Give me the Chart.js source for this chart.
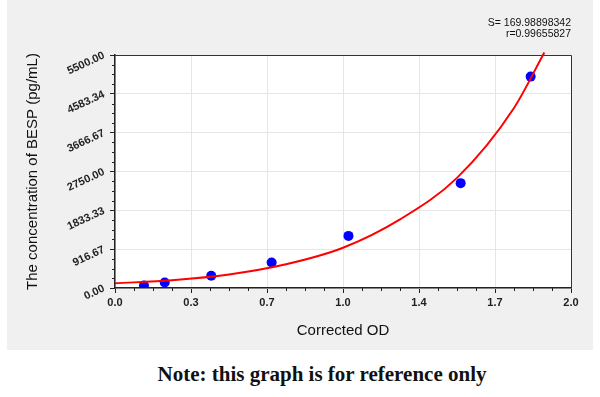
<!DOCTYPE html>
<html>
<head>
<meta charset="utf-8">
<script src="https://cdn.jsdelivr.net/npm/chart.js@4"></script>
<style>
  body { margin: 0; background: #fff; width: 600px; height: 397px; overflow: hidden; position: relative; }
  #panel { position: absolute; left: 7px; top: 0; width: 586px; height: 350px; background: #f0f0f0; }
  #wrap { position: absolute; left: 0; top: 0; width: 600px; height: 350px; }
  #note { position: absolute; left: 22px; top: 362px; width: 600px; text-align: center;
          font: bold 21px "Liberation Serif", "DejaVu Serif", serif; color: #111; }
</style>
</head>
<body>
<div id="panel"></div>
<div id="wrap"><canvas id="curve-chart"></canvas></div>
<div id="note">Note: this graph is for reference only</div>
<script>
// tick labels as printed on the axes
var xLabels = ["0.0", "0.3", "0.7", "1.0", "1.4", "1.7", "2.0"];
var yLabels = ["0.00", "916.67", "1833.33", "2750.00", "3666.67", "4583.34", "5500.00"];

// standards (blue dots)
var odValues = [0.127, 0.218, 0.422, 0.687, 1.024, 1.516, 1.823];
var concValues = [60, 128, 290, 600, 1230, 2475, 4990];

// fitted curve
var curveOD = [0, 0.25, 0.5, 0.75, 1.0, 1.25, 1.5, 1.75, 1.883];
var curveConc = [110, 185, 320, 560, 950, 1620, 2600, 4250, 5560];

var fitText = ["S= 169.98898342", "r=0.99655827"];

var xMax = 2, yMax = 5500;

var framePlugin = {
    id: 'frame',
    beforeDraw: function (chart) {
        var a = chart.chartArea;
        chart.ctx.save();
        chart.ctx.fillStyle = '#fff';
        chart.ctx.fillRect(a.left, a.top, a.right - a.left, a.bottom - a.top);
        chart.ctx.restore();
    },
    beforeDatasetsDraw: function (chart) {
        var ctx = chart.ctx, a = chart.chartArea;
        var xs = chart.scales.x, ys = chart.scales.y;
        ctx.save();
        ctx.strokeStyle = '#333';
        ctx.lineWidth = 1;
        ctx.beginPath();
        ctx.moveTo(a.left, a.top + 0.5);
        ctx.lineTo(a.right + 0.5, a.top + 0.5);
        ctx.lineTo(a.right + 0.5, a.bottom);
        ctx.stroke();

        // minor ticks
        ctx.strokeStyle = '#222';
        ctx.beginPath();
        var n = (xLabels.length - 1) * 4;
        for (var k = 1; k < n; k++) {
            if (k % 4 === 0) continue;
            var px = Math.round(xs.getPixelForValue(k * xMax / n)) + 0.5;
            ctx.moveTo(px, a.bottom);
            ctx.lineTo(px, a.bottom + 3);
        }
        var m = (yLabels.length - 1) * 4;
        for (var j = 1; j < m; j++) {
            if (j % 4 === 0) continue;
            var py = Math.round(ys.getPixelForValue(j * yMax / m)) + 0.5;
            ctx.moveTo(a.left, py);
            ctx.lineTo(a.left - 3, py);
        }
        ctx.stroke();

        // fit statistics
        ctx.fillStyle = '#111';
        ctx.font = '10.5px "Liberation Sans", Arial, sans-serif';
        ctx.textAlign = 'right';
        ctx.textBaseline = 'middle';
        ctx.fillText(fitText[0], 571, 23);
        ctx.fillText(fitText[1], 571, 34);
        ctx.restore();
    }
};

var ctx = document.getElementById('curve-chart').getContext('2d');

new Chart(ctx, {
    type: 'scatter',
    data: {
        datasets: [
            {
                label: 'fit',
                data: curveOD.map(function (x, i) { return { x: x, y: curveConc[i] }; }),
                showLine: true,
                borderColor: '#ff0000',
                borderWidth: 2,
                pointRadius: 0,
                cubicInterpolationMode: 'monotone',
                clip: 6,
                order: 0
            },
            {
                label: 'standards',
                data: odValues.map(function (x, i) { return { x: x, y: concValues[i] }; }),
                backgroundColor: '#0000ff',
                borderWidth: 0,
                pointRadius: 5,
                order: 1
            }
        ]
    },
    options: {
        responsive: true,
        maintainAspectRatio: false,
        animation: false,
        layout: { padding: { left: 24, right: 29, top: 55, bottom: 10 } },
        plugins: {
            legend: { display: false },
            tooltip: { enabled: false }
        },
        scales: {
            x: {
                type: 'linear',
                min: 0,
                max: xMax,
                afterBuildTicks: function (s) {
                    s.ticks = xLabels.map(function (l, i) { return { value: i * xMax / (xLabels.length - 1) }; });
                },
                afterFit: function (s) { s.height = 52; },
                ticks: {
                    autoSkip: false,
                    maxRotation: 0,
                    padding: 3,
                    color: '#222',
                    font: { family: '"Liberation Sans", Arial, sans-serif', size: 11, weight: 'bold' },
                    callback: function (v, i) { return xLabels[i]; }
                },
                grid: { color: '#e6e6e6', tickLength: 5, tickColor: '#222' },
                border: { color: '#222', width: 1.5 },
                title: {
                    display: true,
                    text: 'Corrected OD',
                    color: '#111',
                    padding: 0,
                    font: { family: '"Liberation Sans", Arial, sans-serif', size: 15 }
                }
            },
            y: {
                min: 0,
                max: yMax,
                afterBuildTicks: function (s) {
                    s.ticks = yLabels.map(function (l, i) { return { value: i * yMax / (yLabels.length - 1) }; });
                },
                afterFit: function (s) { s.width = 91; },
                ticks: {
                    autoSkip: false,
                    minRotation: 25,
                    maxRotation: 25,
                    padding: 6,
                    color: '#222',
                    font: { family: '"Liberation Sans", Arial, sans-serif', size: 11, weight: 'bold' },
                    callback: function (v, i) { return yLabels[i]; }
                },
                grid: { color: '#e6e6e6', tickLength: 5, tickColor: '#222' },
                border: { color: '#222', width: 1.5 },
                title: {
                    display: true,
                    text: 'The concentration of BESP (pg/mL)',
                    color: '#111',
                    padding: 0,
                    font: { family: '"Liberation Sans", Arial, sans-serif', size: 15 }
                }
            }
        }
    },
    plugins: [framePlugin]
});
</script>
</body>
</html>
